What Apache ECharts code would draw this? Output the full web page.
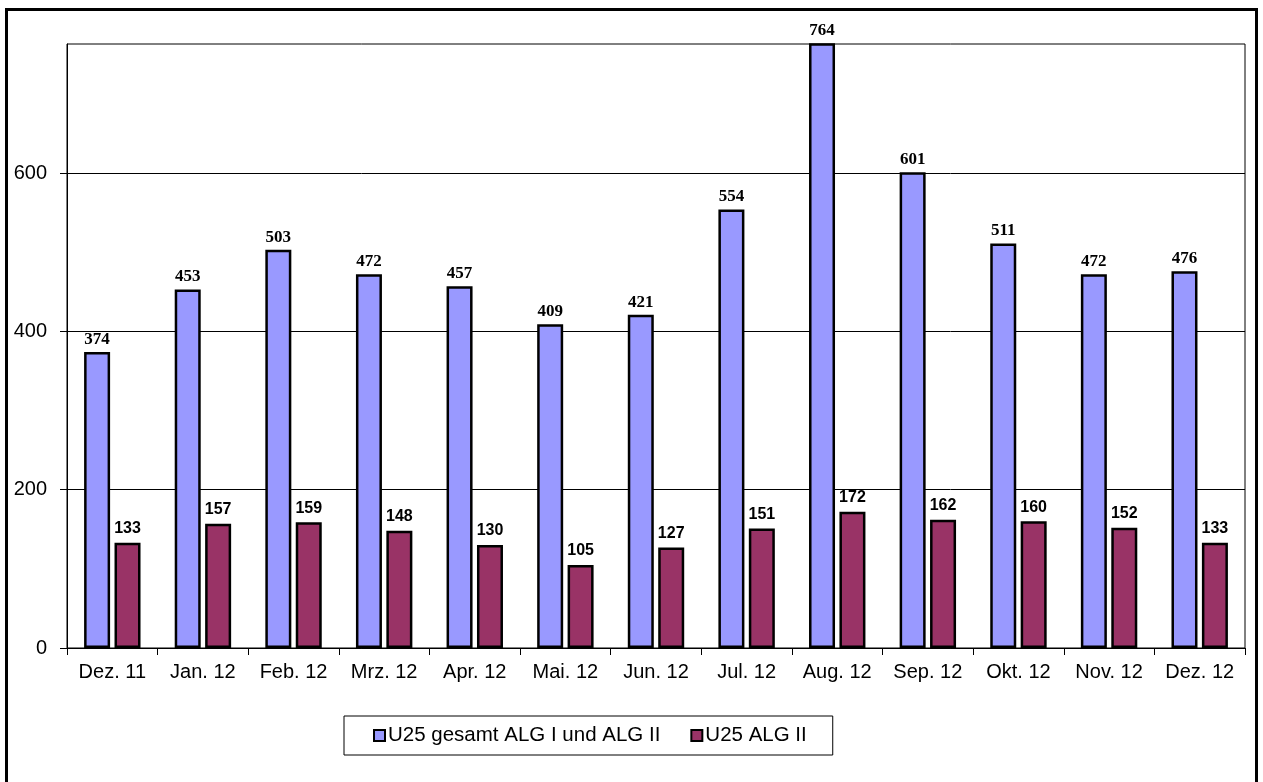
<!DOCTYPE html>
<html>
<head>
<meta charset="utf-8">
<script src="https://cdn.jsdelivr.net/npm/echarts@6/dist/echarts.min.js"></script>
<style>
html,body{margin:0;padding:0;background:#fff;}
#c{width:1263px;height:782px;}
</style>
</head>
<body>
<div id="c"></div>
<script>
const categories = ['Dez. 11','Jan. 12','Feb. 12','Mrz. 12','Apr. 12','Mai. 12','Jun. 12','Jul. 12','Aug. 12','Sep. 12','Okt. 12','Nov. 12','Dez. 12'];
const seriesNames = ['U25 gesamt ALG I und ALG II','U25 ALG II'];
const gesamt = [374,453,503,472,457,409,421,554,764,601,511,472,476];
const alg2 = [133,157,159,148,130,105,127,151,172,162,160,152,133];
const yTicks = [0,200,400,600];

const chart = echarts.init(document.getElementById('c'), null, {renderer:'canvas'});
chart.setOption({
  animation:false,
  backgroundColor:'#fff',
  graphic:[{
    type:'rect', shape:{x:6.5,y:9.5,width:1250,height:800},
    style:{fill:'none',stroke:'#000',lineWidth:3}, silent:true
  }],
  grid:{left:67,right:18,top:44,bottom:134,show:true,borderColor:'#000',borderWidth:1,backgroundColor:'transparent'},
  legend:{
    left:344, top:716,
    padding:[9,26,9,29],
    borderColor:'#000', borderWidth:1,
    itemWidth:11, itemHeight:11, itemGap:30, icon:'rect',
    textStyle:{fontFamily:'Liberation Sans, Arial', fontSize:20.5, color:'#000', padding:[0,0,0,-2]},
    data:seriesNames
  },
  xAxis:{
    type:'category', data:categories,
    axisLine:{lineStyle:{color:'#000',width:1}},
    axisTick:{show:true,length:7,lineStyle:{color:'#000'}},
    axisLabel:{fontFamily:'Liberation Sans, Arial', fontSize:20, color:'#000', margin:14, interval:0}
  },
  yAxis:{
    type:'value', min:0, max:763, interval:200,
    axisLine:{show:true,lineStyle:{color:'#000',width:1}},
    axisTick:{show:true,length:7,lineStyle:{color:'#000'},customValues:yTicks},
    axisLabel:{fontFamily:'Liberation Sans, Arial', fontSize:20, color:'#000', margin:20, customValues:yTicks},
    splitLine:{show:true,lineStyle:{color:'#000',width:1}}
  },
  series:[
    {
      name:seriesNames[0], type:'bar', data:gesamt, barWidth:26, barGap:'17%',
      itemStyle:{color:'#9999FF',borderColor:'#000',borderWidth:2.5},
      label:{show:true,position:'top',distance:4,color:'#000',fontFamily:'Liberation Serif, Times New Roman',fontWeight:'bold',fontSize:17}
    },
    {
      name:seriesNames[1], type:'bar', data:alg2, barWidth:26,
      itemStyle:{color:'#993366',borderColor:'#000',borderWidth:2.5},
      label:{show:true,position:'top',distance:6,color:'#000',fontFamily:'Liberation Sans, Arial',fontWeight:'bold',fontSize:16}
    }
  ]
});
</script>
</body>
</html>
